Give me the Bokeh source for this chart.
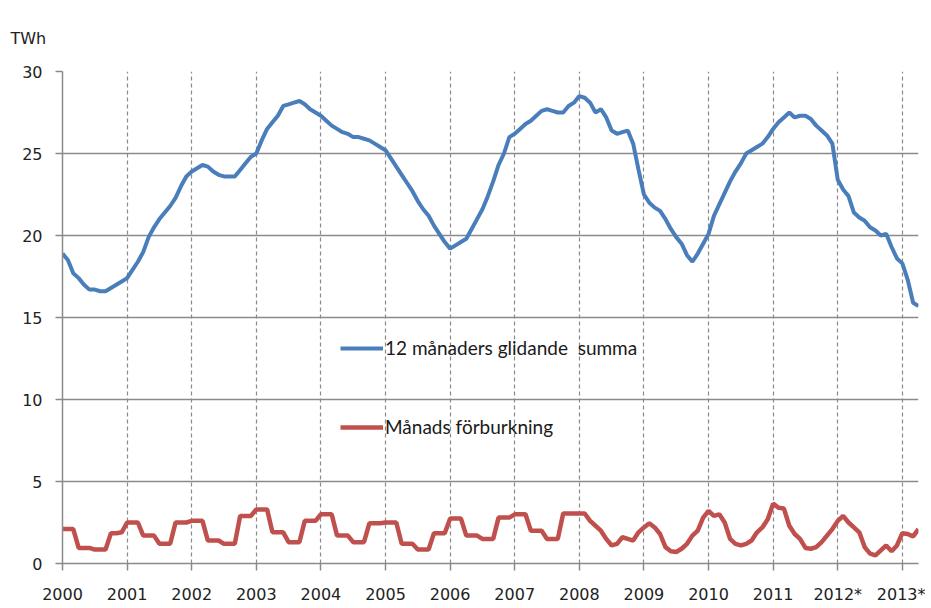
from bokeh.plotting import figure
from bokeh.models import Range1d, FixedTicker, Legend, LegendItem
from bokeh.embed import file_html
from bokeh.resources import INLINE

years = ["2000", "2001", "2002", "2003", "2004", "2005", "2006",
         "2007", "2008", "2009", "2010", "2011", "2012*", "2013*"]
unit_label = "TWh"

# 12 månaders glidande summa (TWh), monthly Jan 2000 - Apr 2013
rolling_2000 = [18.9, 18.5, 17.7, 17.4, 17.0, 16.7, 16.7, 16.6, 16.6, 16.8, 17.0, 17.2]
rolling_2001 = [17.4, 17.9, 18.4, 19.0, 19.9, 20.5, 21.0, 21.4, 21.8, 22.3, 23.0, 23.6]
rolling_2002 = [23.9, 24.1, 24.3, 24.2, 23.9, 23.7, 23.6, 23.6, 23.6, 24.0, 24.4, 24.8]
rolling_2003 = [25.0, 25.8, 26.5, 26.9, 27.3, 27.9, 28.0, 28.1, 28.2, 28.0, 27.7, 27.5]
rolling_2004 = [27.3, 27.0, 26.7, 26.5, 26.3, 26.2, 26.0, 26.0, 25.9, 25.8, 25.6, 25.4]
rolling_2005 = [25.2, 24.7, 24.2, 23.7, 23.2, 22.7, 22.1, 21.6, 21.2, 20.6, 20.1, 19.6]
rolling_2006 = [19.2, 19.4, 19.6, 19.8, 20.4, 21.0, 21.6, 22.4, 23.3, 24.3, 25.0, 26.0]
rolling_2007 = [26.2, 26.5, 26.8, 27.0, 27.3, 27.6, 27.7, 27.6, 27.5, 27.5, 27.9, 28.1]
rolling_2008 = [28.5, 28.4, 28.1, 27.5, 27.7, 27.2, 26.4, 26.2, 26.3, 26.4, 25.6, 24.0]
rolling_2009 = [22.5, 22.0, 21.7, 21.5, 21.0, 20.4, 19.9, 19.5, 18.8, 18.4, 18.9, 19.5]
rolling_2010 = [20.1, 21.2, 21.9, 22.6, 23.3, 23.9, 24.4, 25.0, 25.2, 25.4, 25.6, 26.0]
rolling_2011 = [26.5, 26.9, 27.2, 27.5, 27.2, 27.3, 27.3, 27.1, 26.7, 26.4, 26.1, 25.6]
rolling_2012 = [23.4, 22.8, 22.4, 21.4, 21.1, 20.9, 20.5, 20.3, 20.0, 20.1, 19.3, 18.6]
rolling_2013 = [18.3, 17.3, 15.9, 15.7]

# Månads förburkning (TWh), monthly Jan 2000 - Apr 2013
monthly_2000 = [2.1, 2.1, 2.1, 0.95, 0.95, 0.95, 0.85, 0.85, 0.85, 1.85, 1.85, 1.9]
monthly_2001 = [2.5, 2.5, 2.5, 1.7, 1.7, 1.7, 1.2, 1.2, 1.2, 2.5, 2.5, 2.5]
monthly_2002 = [2.6, 2.6, 2.6, 1.4, 1.4, 1.4, 1.2, 1.2, 1.2, 2.9, 2.9, 2.9]
monthly_2003 = [3.3, 3.3, 3.3, 1.9, 1.9, 1.9, 1.3, 1.3, 1.3, 2.6, 2.6, 2.6]
monthly_2004 = [3.0, 3.0, 3.0, 1.7, 1.7, 1.7, 1.3, 1.3, 1.3, 2.45, 2.45, 2.45]
monthly_2005 = [2.5, 2.5, 2.5, 1.2, 1.2, 1.2, 0.85, 0.85, 0.85, 1.85, 1.85, 1.85]
monthly_2006 = [2.75, 2.75, 2.75, 1.7, 1.7, 1.7, 1.5, 1.5, 1.5, 2.8, 2.8, 2.8]
monthly_2007 = [3.0, 3.0, 3.0, 2.0, 2.0, 2.0, 1.5, 1.5, 1.5, 3.05, 3.05, 3.05]
monthly_2008 = [3.05, 3.05, 2.6, 2.3, 2.0, 1.5, 1.1, 1.2, 1.6, 1.5, 1.4, 1.9]
monthly_2009 = [2.2, 2.45, 2.2, 1.8, 1.0, 0.75, 0.7, 0.9, 1.2, 1.7, 2.0, 2.8]
monthly_2010 = [3.2, 2.9, 3.0, 2.5, 1.5, 1.2, 1.1, 1.2, 1.4, 1.9, 2.2, 2.7]
monthly_2011 = [3.65, 3.4, 3.35, 2.3, 1.8, 1.5, 0.95, 0.9, 1.0, 1.3, 1.7, 2.1]
monthly_2012 = [2.6, 2.9, 2.5, 2.2, 1.9, 1.0, 0.6, 0.5, 0.8, 1.1, 0.75, 1.1]
monthly_2013 = [1.85, 1.8, 1.65, 2.1]

rolling = (rolling_2000 + rolling_2001 + rolling_2002 + rolling_2003 + rolling_2004 +
           rolling_2005 + rolling_2006 + rolling_2007 + rolling_2008 + rolling_2009 +
           rolling_2010 + rolling_2011 + rolling_2012 + rolling_2013)
monthly = (monthly_2000 + monthly_2001 + monthly_2002 + monthly_2003 + monthly_2004 +
           monthly_2005 + monthly_2006 + monthly_2007 + monthly_2008 + monthly_2009 +
           monthly_2010 + monthly_2011 + monthly_2012 + monthly_2013)
months = list(range(len(rolling)))
year_ticks = [12 * i for i in range(len(years))]

p = figure(width=925, height=606, output_backend="svg", toolbar_location=None,
           x_range=Range1d(0, len(months) - 1), y_range=Range1d(0, 30),
           min_border_left=62, min_border_right=7, min_border_top=71, min_border_bottom=36)
p.outline_line_color = None
p.background_fill_color = "white"
p.border_fill_color = "white"

p.title.text = unit_label
p.title.align = "left"
p.title.offset = -52
p.title.standoff = 47
p.title.text_font = "DejaVu Sans"
p.title.text_font_size = "16px"
p.title.text_font_style = "normal"
p.title.text_color = "#222222"

# axes
p.xaxis.ticker = FixedTicker(ticks=year_ticks)
p.xaxis.major_label_overrides = {t: lab for t, lab in zip(year_ticks, years)}
p.yaxis.ticker = FixedTicker(ticks=[0, 5, 10, 15, 20, 25, 30])
for ax in (p.xaxis, p.yaxis):
    ax.axis_line_color = "#8a8a8a"
    ax.axis_line_width = 1.5
    ax.major_tick_line_color = "#8a8a8a"
    ax.major_tick_line_width = 1.5
    ax.major_tick_in = 0
    ax.major_tick_out = 7
    ax.minor_tick_line_color = None
    ax.major_label_text_font = "DejaVu Sans"
    ax.major_label_text_font_size = "16px"
    ax.major_label_text_color = "#222222"
p.xaxis.major_label_standoff = 14
p.yaxis.major_label_standoff = 13

p.xgrid.ticker = FixedTicker(ticks=year_ticks)
p.xgrid.grid_line_color = "#8a8a8a"
p.xgrid.grid_line_dash = "4 3"
p.xgrid.grid_line_width = 1.2
p.ygrid.grid_line_color = "#8a8a8a"
p.ygrid.grid_line_width = 1.5

l1 = p.line(months, rolling, line_color="#4A7EBB", line_width=4)
l2 = p.line(months, monthly, line_color="#C0504D", line_width=4.5)

def make_legend(label, renderer, loc):
    lg = Legend(items=[LegendItem(label=label, renderers=[renderer])], location=loc,
                border_line_color=None, background_fill_alpha=0, padding=0, margin=0,
                glyph_width=43, glyph_height=20, label_height=20, label_standoff=2,
                label_text_font="Lato", label_text_font_size="19px",
                label_text_color="#1a1a1a")
    p.add_layout(lg, "center")

make_legend("12 månaders glidande  summa", l1, (278, 204))
make_legend("Månads förburkning", l2, (278, 125))

open("out.html", "w").write(file_html(p, INLINE))
